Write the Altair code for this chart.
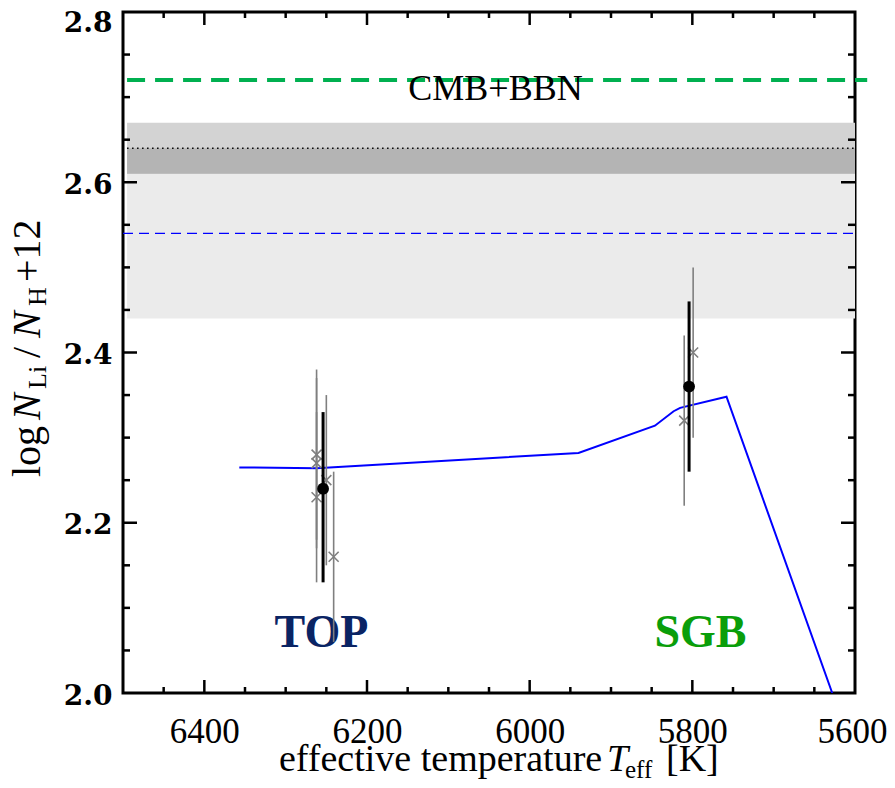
import altair as alt
import pandas as pd

# ---------------- data ----------------
teff_domain = [5600, 6500]          # shown reversed (hot on the left)
logn_domain = [2.0, 2.8]

# diffusion model curve (blue)
model_teff = [6357, 6262, 5940, 5846, 5823, 5815, 5758, 5628]
model_logn = [2.265, 2.264, 2.282, 2.314, 2.331, 2.335, 2.348, 2.0]

# individual stars (grey crosses with error bars)
star_teff = [6262, 6262, 6262, 6250, 6241, 5799, 5810]
star_logn = [2.28, 2.27, 2.23, 2.25, 2.16, 2.40, 2.32]
star_lo = [2.18, 2.17, 2.13, 2.15, 2.06, 2.30, 2.22]
star_hi = [2.38, 2.37, 2.33, 2.35, 2.26, 2.50, 2.42]

# group means (black dots)
mean_teff = [6254, 5804]
mean_logn = [2.24, 2.36]
mean_lo = [2.13, 2.26]
mean_hi = [2.33, 2.46]

# reference levels
cmb_level = 2.72
band_b = [2.44, 2.64]      # light band, centre 2.54 (blue dashed)
band_b_mid = 2.54
band_a = [2.61, 2.67]      # darker band, centre 2.64 (black dotted)
band_a_mid = 2.64
band_teff = [6495, 5600]
cmb_teff = [6495, 5585]

# annotations
group_names = ["TOP", "SGB"]
group_teff = [6256, 5790]
group_logn = [2.071, 2.071]
cmb_label = "CMB+BBN"
cmb_label_pos = [6042, 2.709]

x_tick_labels = [6400, 6200, 6000, 5800, 5600]
y_tick_labels = [2.0, 2.2, 2.4, 2.6, 2.8]
x_major = [6400, 6200, 6000, 5800]
x_minor = [6450, 6350, 6300, 6250, 6150, 6100, 6050, 5950, 5900, 5850,
           5750, 5700, 5650]
y_major = [2.2, 2.4, 2.6]
y_minor = [2.05, 2.1, 2.15, 2.25, 2.3, 2.35, 2.45, 2.5, 2.55, 2.65, 2.7, 2.75]

# ---------------- chart ----------------
W, H = 732, 681
SERIF = "Liberation Serif"

xscale = alt.Scale(domain=teff_domain, reverse=True, nice=False, zero=False)
yscale = alt.Scale(domain=logn_domain, nice=False, zero=False)

xaxis = alt.Axis(values=x_tick_labels, format="d", ticks=False, tickSize=0,
                 domain=False, grid=False, labelFont=SERIF, labelFontSize=35,
                 labelColor="black", labelPadding=49, labelBaseline="alphabetic",
                 labelFlush=False, labelOverlap=False,
                 labelOffset={"condition": {"test": "datum.value <= 5601",
                                            "value": -3}, "value": 0},
                 title=None)
yaxis = alt.Axis(values=y_tick_labels, format=".1f", ticks=False, tickSize=0,
                 domain=False, grid=False, labelFont="DejaVu Serif",
                 labelFontWeight="bold", labelFontSize=28, labelColor="black",
                 labelPadding=11, labelBaseline="middle", labelFlush=False,
                 labelOverlap=False,
                 labelOffset={"condition": {"test": "datum.value >= 2.79",
                                            "value": 11}, "value": 3},
                 title=None)


def X(f):
    return alt.X(f, type="quantitative", scale=xscale, axis=xaxis)


def Y(f):
    return alt.Y(f, type="quantitative", scale=yscale, axis=yaxis)


layers = []

# bands
band_df = pd.DataFrame({
    "x1": [band_teff[0]] * 3, "x2": [band_teff[1]] * 3,
    "lo": [band_b[0], band_a[0], max(band_a[0], band_b[0])],
    "hi": [band_b[1], band_a[1], min(band_a[1], band_b[1])],
    "c": ["#ebebeb", "#d3d3d3", "#b4b4b4"],
})
layers.append(alt.Chart(band_df).mark_rect().encode(
    x=X("x1"), x2="x2", y=Y("lo"), y2="hi",
    color=alt.Color("c:N", scale=None)))

# dotted / dashed reference lines
layers.append(alt.Chart(pd.DataFrame({"x1": [band_teff[0]], "x2": [band_teff[1]],
                                      "y": [band_a_mid]}))
              .mark_rule(color="black", strokeWidth=1.5, strokeDash=[1.5, 3.5])
              .encode(x=X("x1"), x2="x2", y=Y("y")))
layers.append(alt.Chart(pd.DataFrame({"x1": [6500], "x2": [5600],
                                      "y": [band_b_mid]}))
              .mark_rule(color="#0000ff", strokeWidth=1.2, strokeDash=[10, 6])
              .encode(x=X("x1"), x2="x2", y=Y("y")))
layers.append(alt.Chart(pd.DataFrame({"x1": [cmb_teff[0]], "x2": [cmb_teff[1]],
                                      "y": [cmb_level]}))
              .mark_rule(color="#00b050", strokeWidth=4, strokeDash=[18, 10],
                         clip=False)
              .encode(x=X("x1"), x2="x2", y=Y("y")))

layers.append(alt.Chart(pd.DataFrame({"t": [cmb_label], "x": [cmb_label_pos[0]],
                                      "y": [cmb_label_pos[1]]}))
              .mark_text(font=SERIF, fontSize=36, color="black",
                         baseline="middle", align="center")
              .encode(x=X("x"), y=Y("y"), text="t:N"))

# model line
layers.append(alt.Chart(pd.DataFrame({"teff": model_teff, "logn": model_logn,
                                      "o": list(range(len(model_teff)))}))
              .mark_line(color="#0000ff", strokeWidth=2, clip=True)
              .encode(x=X("teff"), y=Y("logn"), order="o:Q"))

# group labels
lab_df = pd.DataFrame({"t": group_names, "x": group_teff, "y": group_logn,
                       "c": ["#0a2464", "#0a9e0a"]})
layers.append(alt.Chart(lab_df).mark_text(font=SERIF, fontSize=46,
                                          fontWeight="bold", baseline="middle",
                                          align="center")
              .encode(x=X("x"), y=Y("y"), text="t:N",
                      color=alt.Color("c:N", scale=None)))

# stars
star_df = pd.DataFrame({"teff": star_teff, "logn": star_logn,
                        "lo": star_lo, "hi": star_hi})
layers.append(alt.Chart(star_df).mark_rule(color="#7f7f7f", strokeWidth=1.6)
              .encode(x=X("teff"), y=Y("lo"), y2="hi"))
layers.append(alt.Chart(star_df).mark_point(
    shape="M-1,-1L1,1M-1,1L1,-1", size=100, filled=False, color="#7f7f7f",
    strokeWidth=1.6, opacity=1).encode(x=X("teff"), y=Y("logn")))

# means
mean_df = pd.DataFrame({"teff": mean_teff, "logn": mean_logn,
                        "lo": mean_lo, "hi": mean_hi})
layers.append(alt.Chart(mean_df).mark_rule(color="black", strokeWidth=3)
              .encode(x=X("teff"), y=Y("lo"), y2="hi"))
layers.append(alt.Chart(mean_df).mark_point(shape="circle", size=140,
                                            filled=True, color="black",
                                            opacity=1)
              .encode(x=X("teff"), y=Y("logn")))


# inward ticks on all four sides
def xticks(vals, length):
    d = pd.DataFrame({"v": vals})
    b = alt.Chart(d).mark_rule(color="black", strokeWidth=2.5).encode(
        x=X("v"), y=alt.value(H), y2=alt.value(H - length))
    t = alt.Chart(d).mark_rule(color="black", strokeWidth=2.5).encode(
        x=X("v"), y=alt.value(0), y2=alt.value(length))
    return [b, t]


def yticks(vals, length):
    d = pd.DataFrame({"v": vals})
    l = alt.Chart(d).mark_rule(color="black", strokeWidth=2.5).encode(
        y=Y("v"), x=alt.value(0), x2=alt.value(length))
    r = alt.Chart(d).mark_rule(color="black", strokeWidth=2.5).encode(
        y=Y("v"), x=alt.value(W), x2=alt.value(W - length))
    return [l, r]


layers += xticks(x_major, 13) + xticks(x_minor, 6)
layers += yticks(y_major, 14) + yticks(y_minor, 7)


# axis titles composed of pieces (italic symbols, subscripts)
def txt(s, x, y, size, style="normal", angle=0):
    return alt.Chart(pd.DataFrame({"t": [s]})).mark_text(
        font=SERIF, fontSize=size, fontStyle=style, color="black",
        align="left", baseline="alphabetic", angle=angle).encode(
        text="t:N", x=alt.value(x), y=alt.value(y))


layers += [
    txt("effective temperature", 156, 759, 38),
    txt("T", 484, 759, 38, "italic"),
    txt("eff", 502, 766, 25),
    txt("[K]", 543, 759, 38),
]
dy = -12
layers += [
    txt("log", -83, 477 + dy, 40, angle=270),
    txt("N", -83, 420 + dy, 40, "italic", angle=270),
    txt("Li", -77, 389 + dy, 26, angle=270),
    txt("/", -83, 358 + dy, 40, angle=270),
    txt("N", -83, 338 + dy, 40, "italic", angle=270),
    txt("H", -77, 306 + dy, 26, angle=270),
    txt("+12", -83, 282 + dy, 40, angle=270),
]

chart = alt.layer(*layers).properties(
    width=W, height=H,
    padding={"left": 115, "top": 4, "right": 32, "bottom": 87},
    autosize=alt.AutoSizeParams(type="none"),
).configure_view(stroke="black", strokeWidth=3)

chart.save("out.html", embed_options={"renderer": "svg", "actions": False})
